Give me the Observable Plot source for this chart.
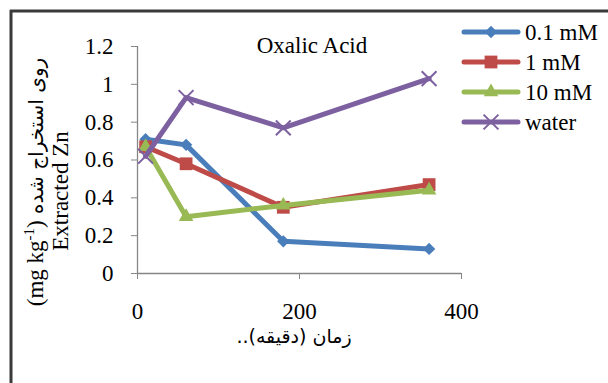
<!DOCTYPE html>
<html>
<head>
<meta charset="utf-8">
<script src="https://cdn.jsdelivr.net/npm/d3@7"></script>
<script src="https://cdn.jsdelivr.net/npm/@observablehq/plot@0.6"></script>
<style>
  html, body { margin: 0; padding: 0; background: #fff; }
  #wrap { position: relative; width: 608px; height: 383px; overflow: hidden; background: #fff; }
  #wrap svg { position: absolute; left: 0; top: 0; }
</style>
</head>
<body>
<div id="wrap"></div>
<script>
// ---- data ----
const times = [10, 60, 180, 360];
const seriesNames = ["0.1 mM", "1 mM", "10 mM", "water"];
const values01 = [0.71, 0.68, 0.17, 0.13];
const values1 = [0.67, 0.58, 0.35, 0.47];
const values10 = [0.67, 0.30, 0.36, 0.44];
const valuesWater = [0.62, 0.93, 0.77, 1.03];
const xTicks = [0, 200, 400];
const yTicks = [0, 0.2, 0.4, 0.6, 0.8, 1, 1.2];
const yTickLabels = ["0", "0.2", "0.4", "0.6", "0.8", "1", "1.2"];
const chartTitle = "Oxalic Acid";
const xTitle = "زمان (دقیقه)..";
const yTitleLatin = "(mg kg";
const yTitleSup = "-1";
const yTitleRest = ") روی استخراج شده";
const yTitle2 = "Extracted Zn";

// ---- styles ----
const colors = ["#4a7ebb", "#be4b48", "#98b954", "#7d60a0"];
const symbols = ["diamond2", "square", "triangle", "times"];
const radii = [5.6, 7.2, 5.4, 6.8];
const serif = "'Times New Roman', 'Liberation Serif', Tinos, 'Noto Serif', 'DejaVu Serif', serif";
const sans = "'DejaVu Sans', sans-serif";

const allValues = [values01, values1, values10, valuesWater];
const rows = [];
seriesNames.forEach((s, i) => times.forEach((t, j) => rows.push({series: s, time: t, value: allValues[i][j]})));

const marks = [
  Plot.ruleX([0], {stroke: "#868686", strokeWidth: 1.3}),
  Plot.ruleY([0], {stroke: "#868686", strokeWidth: 1.3}),
  Plot.axisY(yTicks, {tickSize: 6, tickPadding: 18, stroke: "#868686", fill: "black",
    tickFormat: d => yTickLabels[yTicks.indexOf(d)], label: null}),
  Plot.axisX(xTicks, {tickSize: 6, tickPadding: 23, stroke: "#868686", fill: "black",
    tickFormat: d => String(d), label: null})
];
seriesNames.forEach((s, i) => {
  const data = rows.filter(d => d.series === s);
  marks.push(Plot.line(data, {x: "time", y: "value", stroke: colors[i], strokeWidth: 5,
    strokeLinejoin: "round", strokeLinecap: "round"}));
  const isStroke = symbols[i] === "times";
  marks.push(Plot.dot(data, {x: "time", y: "value", symbol: symbols[i], r: radii[i],
    fill: isStroke ? "none" : colors[i], stroke: isStroke ? colors[i] : "none",
    strokeWidth: isStroke ? 2 : 0}));
});

const chart = Plot.plot({
  width: 608, height: 383,
  marginLeft: 137, marginRight: 147, marginTop: 46, marginBottom: 110,
  x: {domain: [0, 400]},
  y: {domain: [0, 1.2]},
  style: {fontFamily: serif, fontSize: "23px", color: "black", background: "transparent", overflow: "visible"},
  marks
});
document.getElementById("wrap").appendChild(chart);

// ---- overlay: frame, title, axis titles, legend ----
const ns = "http://www.w3.org/2000/svg";
const ov = d3.select("#wrap").append("svg").attr("width", 608).attr("height", 383)
  .attr("xmlns", ns).style("pointer-events", "none").style("font-family", serif);

ov.append("line").attr("x1", 10).attr("x2", 608).attr("y1", 11).attr("y2", 11)
  .attr("stroke", "#3a3a3a").attr("stroke-width", 3);
ov.append("line").attr("x1", 11).attr("x2", 11).attr("y1", 10).attr("y2", 383)
  .attr("stroke", "#3a3a3a").attr("stroke-width", 3);

ov.append("text").attr("x", 312).attr("y", 53).attr("text-anchor", "middle")
  .attr("font-size", 23).text(chartTitle);

ov.append("text").attr("x", 294).attr("y", 343).attr("text-anchor", "middle")
  .attr("direction", "rtl").style("font-family", sans).attr("font-size", 19).text(xTitle);

const yt1 = ov.append("text").attr("transform", "translate(43,182) rotate(-90)")
  .attr("text-anchor", "middle").attr("font-size", 23);
yt1.append("tspan").text(yTitleLatin);
yt1.append("tspan").attr("font-size", 15).attr("dy", -9).text(yTitleSup);
yt1.append("tspan").attr("dy", 9).text(yTitleRest.slice(0, 1));
yt1.append("tspan").style("font-family", sans).attr("font-size", 20).text(yTitleRest.slice(1));

ov.append("text").attr("transform", "translate(68,191) rotate(-90)")
  .attr("text-anchor", "middle").attr("font-size", 23).text(yTitle2);

const symMap = {diamond2: d3.symbolDiamond2, square: d3.symbolSquare, triangle: d3.symbolTriangle, times: d3.symbolTimes};
seriesNames.forEach((s, i) => {
  const y = 32 + i * 30;
  const g = ov.append("g");
  g.append("line").attr("x1", 464).attr("x2", 518).attr("y1", y).attr("y2", y)
    .attr("stroke", colors[i]).attr("stroke-width", 5).attr("stroke-linecap", "round");
  const isStroke = symbols[i] === "times";
  g.append("path").attr("transform", `translate(491,${y})`)
    .attr("d", d3.symbol(symMap[symbols[i]], Math.PI * radii[i] * radii[i])())
    .attr("fill", isStroke ? "none" : colors[i]).attr("stroke", isStroke ? colors[i] : "none")
    .attr("stroke-width", isStroke ? 2 : 0);
  g.append("text").attr("x", 525).attr("y", y + 8).attr("font-size", 23).text(s);
});
</script>
</body>
</html>
